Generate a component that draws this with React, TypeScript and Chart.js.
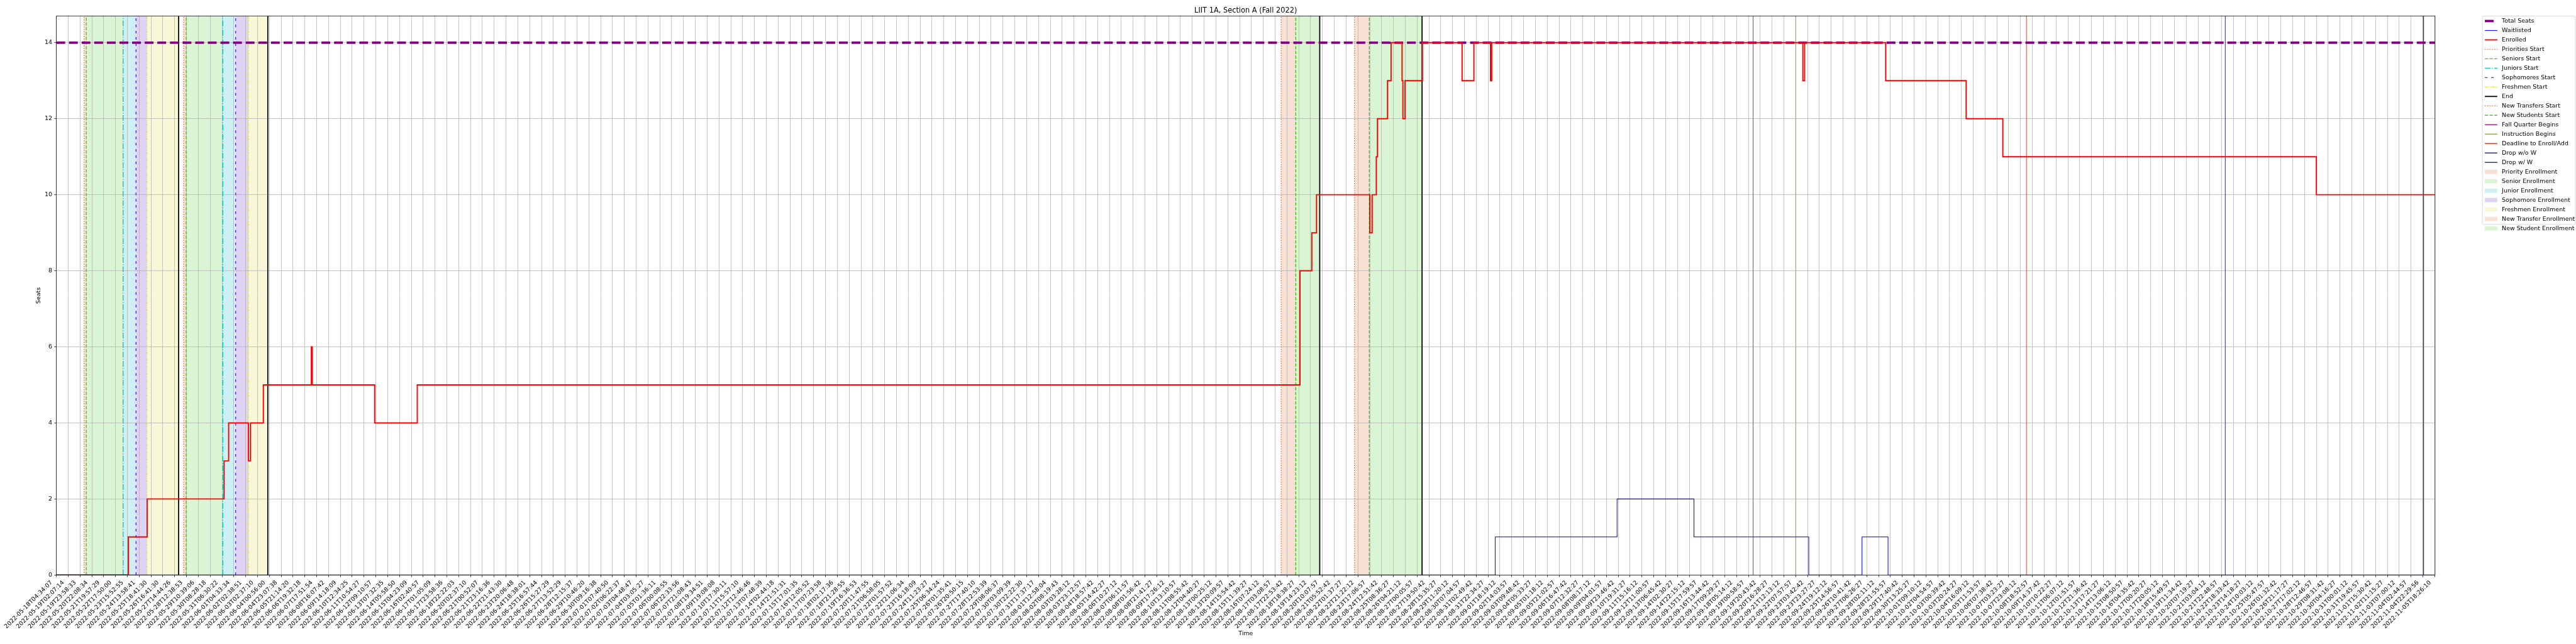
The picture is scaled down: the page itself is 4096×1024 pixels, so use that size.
import React, { useEffect, useRef } from "react";
import { Chart, registerables } from "chart.js";

Chart.register(...registerables);

const W = 4096;
const H = 1024;
const S = W / 6000;
const px = (v: number) => v * S;
const FONT = "DejaVu Sans";

const chartTitle = "LIIT 1A, Section A (Fall 2022)";
const xAxisTitle = "Time";
const yAxisTitle = "Seats";

const tickLabels: string[] = [
  "2022-05-18T04:34:07", "2022-05-19T02:07:14", "2022-05-19T23:58:33", "2022-05-20T22:08:34",
  "2022-05-21T19:57:29", "2022-05-22T17:50:00", "2022-05-23T15:52:55", "2022-05-24T13:58:41",
  "2022-05-25T18:41:30", "2022-05-26T16:41:30", "2022-05-27T14:44:26", "2022-05-28T12:38:53",
  "2022-05-29T10:39:06", "2022-05-30T08:28:18", "2022-05-31T06:30:22", "2022-06-01T04:33:34",
  "2022-06-02T02:38:51", "2022-06-03T02:37:10", "2022-06-04T00:56:00", "2022-06-04T23:07:38",
  "2022-06-05T21:14:20", "2022-06-06T19:32:18", "2022-06-07T17:51:54", "2022-06-08T16:07:42",
  "2022-06-09T14:18:09", "2022-06-10T12:34:25", "2022-06-11T10:54:27", "2022-06-12T09:10:57",
  "2022-06-13T07:32:35", "2022-06-14T05:58:50", "2022-06-15T04:23:09", "2022-06-16T02:40:57",
  "2022-06-17T01:05:09", "2022-06-17T23:58:36", "2022-06-18T22:22:03", "2022-06-20T02:37:10",
  "2022-06-21T00:52:07", "2022-06-21T23:16:36", "2022-06-22T21:43:30", "2022-06-23T20:06:48",
  "2022-06-24T18:38:01", "2022-06-25T16:57:44", "2022-06-26T15:27:29", "2022-06-27T13:52:29",
  "2022-06-28T12:15:37", "2022-06-29T10:46:20", "2022-06-30T09:16:38", "2022-07-01T07:40:50",
  "2022-07-02T06:22:37", "2022-07-03T04:48:47", "2022-07-04T03:05:27", "2022-07-05T01:36:11",
  "2022-07-06T00:08:55", "2022-07-06T22:33:56", "2022-07-07T21:08:43", "2022-07-08T19:34:51",
  "2022-07-09T19:08:08", "2022-07-10T17:30:11", "2022-07-11T15:57:10", "2022-07-12T12:46:46",
  "2022-07-13T07:48:39", "2022-07-14T02:44:18", "2022-07-14T21:51:31", "2022-07-15T17:01:35",
  "2022-07-16T12:05:52", "2022-07-17T07:23:58", "2022-07-18T02:17:36", "2022-07-18T21:28:55",
  "2022-07-19T16:36:53", "2022-07-20T11:47:55", "2022-07-21T06:58:05", "2022-07-22T01:57:52",
  "2022-07-22T21:06:34", "2022-07-23T16:18:09", "2022-07-24T11:23:27", "2022-07-25T06:34:24",
  "2022-07-26T01:35:41", "2022-07-26T20:50:15", "2022-07-27T17:40:10", "2022-07-28T12:53:39",
  "2022-07-29T08:06:37", "2022-07-30T03:09:39", "2022-07-30T22:22:30", "2022-07-31T17:37:17",
  "2022-08-01T12:58:04", "2022-08-02T08:19:43", "2022-08-03T03:28:12", "2022-08-03T23:12:57",
  "2022-08-04T18:57:42", "2022-08-05T14:42:27", "2022-08-06T10:27:12", "2022-08-07T06:11:57",
  "2022-08-08T01:56:42", "2022-08-08T21:41:27", "2022-08-09T17:26:12", "2022-08-10T13:10:57",
  "2022-08-11T08:55:42", "2022-08-12T04:40:27", "2022-08-13T00:25:12", "2022-08-13T20:09:57",
  "2022-08-14T15:54:42", "2022-08-15T11:39:27", "2022-08-16T07:24:12", "2022-08-17T03:08:57",
  "2022-08-17T22:53:42", "2022-08-18T18:38:27", "2022-08-19T14:23:12", "2022-08-20T10:07:57",
  "2022-08-21T05:52:42", "2022-08-22T01:37:27", "2022-08-22T21:22:12", "2022-08-23T17:06:57",
  "2022-08-24T12:51:42", "2022-08-25T08:36:27", "2022-08-26T04:21:12", "2022-08-27T00:05:57",
  "2022-08-27T19:50:42", "2022-08-28T15:35:27", "2022-08-29T11:20:12", "2022-08-30T07:04:57",
  "2022-08-31T02:49:42", "2022-08-31T22:34:27", "2022-09-01T18:19:12", "2022-09-02T14:03:57",
  "2022-09-03T09:48:42", "2022-09-04T05:33:27", "2022-09-05T01:18:12", "2022-09-05T21:02:57",
  "2022-09-06T16:47:42", "2022-09-07T12:32:27", "2022-09-08T08:17:12", "2022-09-09T04:01:57",
  "2022-09-09T23:46:42", "2022-09-10T19:31:27", "2022-09-11T15:16:12", "2022-09-12T11:00:57",
  "2022-09-13T06:45:42", "2022-09-14T02:30:27", "2022-09-14T22:15:12", "2022-09-15T17:59:57",
  "2022-09-16T13:44:42", "2022-09-17T09:29:27", "2022-09-18T05:14:12", "2022-09-19T00:58:57",
  "2022-09-19T20:43:42", "2022-09-20T16:28:27", "2022-09-21T12:13:12", "2022-09-22T07:57:57",
  "2022-09-23T03:42:42", "2022-09-23T23:27:27", "2022-09-24T19:12:12", "2022-09-25T14:56:57",
  "2022-09-26T10:41:42", "2022-09-27T06:26:27", "2022-09-28T02:11:12", "2022-09-28T21:55:57",
  "2022-09-29T17:40:42", "2022-09-30T13:25:27", "2022-10-01T09:10:12", "2022-10-02T04:54:57",
  "2022-10-03T00:39:42", "2022-10-03T20:24:27", "2022-10-04T16:09:12", "2022-10-05T11:53:57",
  "2022-10-06T07:38:42", "2022-10-07T03:23:27", "2022-10-07T23:08:12", "2022-10-08T18:52:57",
  "2022-10-09T14:37:42", "2022-10-10T10:22:27", "2022-10-11T06:07:12", "2022-10-12T01:51:57",
  "2022-10-12T21:36:42", "2022-10-13T17:21:27", "2022-10-14T13:06:12", "2022-10-15T08:50:57",
  "2022-10-16T04:35:42", "2022-10-17T00:20:27", "2022-10-17T20:05:12", "2022-10-18T15:49:57",
  "2022-10-19T11:34:42", "2022-10-20T07:19:27", "2022-10-21T03:04:12", "2022-10-21T22:48:57",
  "2022-10-22T18:33:42", "2022-10-23T14:18:27", "2022-10-24T10:03:12", "2022-10-25T05:47:57",
  "2022-10-26T01:32:42", "2022-10-26T21:17:27", "2022-10-27T17:02:12", "2022-10-28T12:46:57",
  "2022-10-29T08:31:42", "2022-10-30T04:16:27", "2022-10-31T00:01:12", "2022-10-31T19:45:57",
  "2022-11-01T15:30:42", "2022-11-02T11:15:27", "2022-11-03T07:00:12", "2022-11-04T02:44:57",
  "2022-11-04T22:29:56", "2022-11-05T18:26:10",
];

// x positions are in tick-index units (tick k at x = k); the final tick sits at xMax
const regularTickCount = 201;
const xMax = 201.03;
const yMax = 14.7;
const yTicks = [0, 2, 4, 6, 8, 10, 12, 14];

const totalSeats = 14;

const enrolledX = [0, 6.08, 7.67, 14.17, 14.56, 16.23, 16.4, 17.49, 21.55, 21.62, 26.9, 30.5,
  105.1, 106.1, 106.5, 111.0, 111.2, 111.55, 111.65, 112.5, 112.8, 113.73, 113.8, 113.98, 115.45,
  118.8, 119.8, 121.2, 121.3, 147.6, 147.75, 154.6, 161.4, 164.5, 191.0, 201.03];
const enrolledY = [0, 1, 2, 3, 4, 3, 4, 5, 6, 5, 4, 5,
  8, 9, 10, 9, 10, 11, 12, 13, 14, 13, 12, 13, 14,
  13, 14, 13, 14, 13, 14, 13, 12, 11, 10, 10];

const waitlistX = [0, 121.6, 131.9, 138.4, 148.1, 152.6, 154.8, 201.03];
const waitlistY = [0, 1, 2, 1, 0, 1, 0, 0];

const prioritiesStart = [2.34, 10.75];
const seniorsStart = [2.53, 10.97];
const juniorsStart = [5.64, 14.06];
const sophomoresStart = [6.73, 15.15];
const freshmenStart = [7.65, 16.23];
const enrollmentEnd = [10.33, 17.87, 106.77, 115.42];
const newTransfersStart = [103.51, 109.71];
const newStudentsStart = [104.74, 110.96];
const fallQuarterBegins = [143.4];
const instructionBegins = [147.0];
const deadlineEnrollAdd = [166.5];
const dropWithoutW = [183.3];
const dropWithW = [200.05];

// ---------- styles ----------
const C = {
  seats: "#800080", wait: "#0000ff", enr: "#ff0000",
  prio: "#f26b3a", senior: "#44cc22", junior: "#00c8d7", soph: "#6622dd", fresh: "#e3e32e",
  end: "#000000", fall: "#c0209a", instr: "#8db51f", deadline: "#d9482b", dropNo: "#302c8a", dropW: "#333d5c",
  fPrio: "#f8e0d5", fSenior: "#daf5d3", fJunior: "#cff0f3", fSoph: "#dfd3f4", fFresh: "#f8f8d9",
};
const LW = 2.08;
const dotted = [LW, 3.44];
const dashed = [7.7, 3.33];
const dashDot = [13.3, 3.33, LW, 3.33];
const soph = [6.2, 8.3];
const dashDotDot = [6.2, LW, LW, LW, LW, LW];

type VLine = { values: number[]; color: string; width: number; dash: number[] };
const vlines: VLine[] = [
  { values: prioritiesStart, color: C.prio, width: LW, dash: dotted },
  { values: seniorsStart, color: C.senior, width: LW, dash: dashed },
  { values: juniorsStart, color: C.junior, width: LW, dash: dashDot },
  { values: sophomoresStart, color: C.soph, width: LW, dash: soph },
  { values: freshmenStart, color: C.fresh, width: LW, dash: dashDotDot },
  { values: enrollmentEnd, color: C.end, width: 2.6, dash: [] },
  { values: newTransfersStart, color: C.prio, width: LW, dash: dotted },
  { values: newStudentsStart, color: C.senior, width: LW, dash: dashed },
  { values: fallQuarterBegins, color: C.fall, width: 1.5, dash: [] },
  { values: instructionBegins, color: C.instr, width: 1.5, dash: [] },
  { values: deadlineEnrollAdd, color: C.deadline, width: 1.5, dash: [] },
  { values: dropWithoutW, color: C.dropNo, width: 1.5, dash: [] },
  { values: dropWithW, color: C.dropW, width: 2.2, dash: [] },
];

type Span = { from: number[]; to: number[]; color: string };
const spans: Span[] = [
  { from: prioritiesStart, to: seniorsStart, color: C.fPrio },
  { from: seniorsStart, to: juniorsStart, color: C.fSenior },
  { from: juniorsStart, to: sophomoresStart, color: C.fJunior },
  { from: sophomoresStart, to: freshmenStart, color: C.fSoph },
  { from: freshmenStart, to: enrollmentEnd.slice(0, 2), color: C.fFresh },
  { from: newTransfersStart, to: newStudentsStart, color: C.fPrio },
  { from: newStudentsStart, to: enrollmentEnd.slice(2, 4), color: C.fSenior },
];

type LegendItem = { label: string; kind: "line" | "patch"; color: string; width?: number; dash?: number[] };
const legendItems: LegendItem[] = [
  { label: "Total Seats", kind: "line", color: C.seats, width: 5.56, dash: [20.5, 8.9] },
  { label: "Waitlisted", kind: "line", color: C.wait, width: 1.5, dash: [] },
  { label: "Enrolled", kind: "line", color: C.enr, width: 2.8, dash: [] },
  { label: "Priorities Start", kind: "line", color: C.prio, width: LW, dash: dotted },
  { label: "Seniors Start", kind: "line", color: C.senior, width: LW, dash: dashed },
  { label: "Juniors Start", kind: "line", color: C.junior, width: LW, dash: dashDot },
  { label: "Sophomores Start", kind: "line", color: C.soph, width: LW, dash: soph },
  { label: "Freshmen Start", kind: "line", color: C.fresh, width: LW, dash: dashDotDot },
  { label: "End", kind: "line", color: C.end, width: 2.6, dash: [] },
  { label: "New Transfers Start", kind: "line", color: C.prio, width: LW, dash: dotted },
  { label: "New Students Start", kind: "line", color: C.senior, width: LW, dash: dashed },
  { label: "Fall Quarter Begins", kind: "line", color: C.fall, width: 2.2, dash: [] },
  { label: "Instruction Begins", kind: "line", color: C.instr, width: 2.2, dash: [] },
  { label: "Deadline to Enroll/Add", kind: "line", color: C.deadline, width: 2.2, dash: [] },
  { label: "Drop w/o W", kind: "line", color: C.dropNo, width: 2.2, dash: [] },
  { label: "Drop w/ W", kind: "line", color: C.dropW, width: 2.2, dash: [] },
  { label: "Priority Enrollment", kind: "patch", color: C.fPrio },
  { label: "Senior Enrollment", kind: "patch", color: C.fSenior },
  { label: "Junior Enrollment", kind: "patch", color: C.fJunior },
  { label: "Sophomore Enrollment", kind: "patch", color: C.fSoph },
  { label: "Freshmen Enrollment", kind: "patch", color: C.fFresh },
  { label: "New Transfer Enrollment", kind: "patch", color: C.fPrio },
  { label: "New Student Enrollment", kind: "patch", color: C.fSenior },
];

const tickValues: number[] = [];
for (let k = 0; k < regularTickCount; k++) tickValues.push(k);
tickValues.push(xMax);

const spanPlugin = {
  id: "spans",
  beforeDraw(chart: any) {
    const { ctx, chartArea, scales } = chart;
    const { top, bottom, left, right } = chartArea;
    ctx.save();
    ctx.fillStyle = "#ffffff";
    ctx.fillRect(0, 0, chart.width, chart.height);
    ctx.beginPath();
    ctx.rect(left, top, right - left, bottom - top);
    ctx.clip();
    for (const sp of spans) {
      ctx.fillStyle = sp.color;
      sp.from.forEach((f, i) => {
        const a = scales.x.getPixelForValue(f);
        const b = scales.x.getPixelForValue(sp.to[i]);
        ctx.fillRect(a, top, b - a, bottom - top);
      });
    }
    ctx.restore();
  },
};

const vlinePlugin = {
  id: "vlines",
  beforeDatasetsDraw(chart: any) {
    const { ctx, chartArea, scales } = chart;
    const { top, bottom, left, right } = chartArea;
    ctx.save();
    ctx.beginPath();
    ctx.rect(left, top, right - left, bottom - top);
    ctx.clip();
    for (const ln of vlines) {
      ctx.strokeStyle = ln.color;
      ctx.lineWidth = px(ln.width);
      ctx.setLineDash(ln.dash.map(px));
      for (const v of ln.values) {
        const X = scales.x.getPixelForValue(v);
        ctx.beginPath();
        ctx.moveTo(X, bottom);
        ctx.lineTo(X, top);
        ctx.stroke();
      }
    }
    ctx.restore();
  },
};

const decorPlugin = {
  id: "decor",
  afterDraw(chart: any) {
    const { ctx, chartArea } = chart;
    const { top, bottom, left, right } = chartArea;
    ctx.save();
    // frame
    ctx.strokeStyle = "#000";
    ctx.lineWidth = px(1.11);
    ctx.setLineDash([]);
    ctx.strokeRect(left, top, right - left, bottom - top);
    // title
    ctx.fillStyle = "#000";
    ctx.font = `${px(16.67)}px "${FONT}"`;
    ctx.textAlign = "center";
    ctx.textBaseline = "alphabetic";
    ctx.fillText(chartTitle, (left + right) / 2, px(29));
    // legend
    const bx = px(5782), by = px(37.3), bw = W - 1 - bx, bh = px(522.7 - 37.3);
    const r = px(3);
    ctx.beginPath();
    ctx.moveTo(bx + r, by);
    ctx.lineTo(bx + bw - r, by);
    ctx.quadraticCurveTo(bx + bw, by, bx + bw, by + r);
    ctx.lineTo(bx + bw, by + bh - r);
    ctx.quadraticCurveTo(bx + bw, by + bh, bx + bw - r, by + bh);
    ctx.lineTo(bx + r, by + bh);
    ctx.quadraticCurveTo(bx, by + bh, bx, by + bh - r);
    ctx.lineTo(bx, by + r);
    ctx.quadraticCurveTo(bx, by, bx + r, by);
    ctx.closePath();
    ctx.fillStyle = "rgba(255,255,255,0.8)";
    ctx.fill();
    ctx.strokeStyle = "#cccccc";
    ctx.lineWidth = px(1.1);
    ctx.stroke();
    const hx0 = px(5787.7), hx1 = px(5816.7), tx = px(5827.3);
    ctx.font = `${px(13.9)}px "${FONT}"`;
    ctx.textAlign = "left";
    ctx.textBaseline = "middle";
    legendItems.forEach((it, i) => {
      const y = px(49 + i * 21.95);
      if (it.kind === "line") {
        ctx.strokeStyle = it.color;
        ctx.lineWidth = px(it.width || 1);
        ctx.setLineDash((it.dash || []).map(px));
        ctx.beginPath();
        ctx.moveTo(hx0, y);
        ctx.lineTo(hx1, y);
        ctx.stroke();
        ctx.setLineDash([]);
      } else {
        ctx.fillStyle = it.color;
        ctx.fillRect(hx0, y - px(5), hx1 - hx0, px(10));
      }
      ctx.fillStyle = "#000";
      ctx.fillText(it.label, tx, y + px(0.5));
    });
    ctx.restore();
  },
};

export default function App() {
  const ref = useRef<HTMLCanvasElement | null>(null);
  useEffect(() => {
    if (!ref.current) return;
    const fontTick = { family: FONT, size: px(13.9) };
    const chart = new Chart(ref.current, {
      type: "line",
      data: {
        datasets: [
          {
            label: "Enrolled",
            data: enrolledX.map((x, i) => ({ x, y: enrolledY[i] })),
            borderColor: C.enr,
            borderWidth: px(2.8),
            stepped: "before",
            pointRadius: 0,
            fill: false,
          },
          {
            label: "Waitlisted",
            data: waitlistX.map((x, i) => ({ x, y: waitlistY[i] })),
            borderColor: C.wait,
            borderWidth: px(1.5),
            stepped: "before",
            pointRadius: 0,
            fill: false,
          },
          {
            label: "Total Seats",
            data: [{ x: 0, y: totalSeats }, { x: xMax, y: totalSeats }],
            borderColor: C.seats,
            borderWidth: px(5.56),
            borderDash: [px(20.5), px(8.9)],
            pointRadius: 0,
            fill: false,
          },
        ],
      },
      options: {
        animation: false,
        responsive: false,
        maintainAspectRatio: false,
        devicePixelRatio: 1,
        events: [],
        layout: { padding: { left: 0, top: px(37.3), right: W - px(5671.7), bottom: 0 } },
        plugins: { legend: { display: false }, title: { display: false }, tooltip: { enabled: false } },
        scales: {
          x: {
            type: "linear",
            min: 0,
            max: xMax,
            afterBuildTicks: (sc: any) => {
              sc.ticks = tickValues.map((v) => ({ value: v }));
            },
            afterFit: (sc: any) => {
              sc.height = H - px(1339.3);
            },
            ticks: {
              autoSkip: false,
              maxRotation: 45,
              minRotation: 45,
              callback: (_v: any, i: number) => tickLabels[i] ?? "",
              font: fontTick,
              color: "#000",
              padding: px(4.86),
              labelOffset: -0.81 * px(13.9),
            },
            grid: {
              color: "#b0b0b0",
              lineWidth: px(1.11),
              drawTicks: true,
              tickLength: px(4.86),
              tickColor: "#000",
              tickWidth: px(1.11),
            },
            border: { display: false },
            title: {
              display: true,
              text: xAxisTitle,
              font: fontTick,
              color: "#000",
              padding: { top: 0, bottom: 10.7 },
            },
          },
          y: {
            type: "linear",
            min: 0,
            max: yMax,
            afterBuildTicks: (sc: any) => {
              sc.ticks = yTicks.map((v) => ({ value: v }));
            },
            afterFit: (sc: any) => {
              sc.width = px(131.3);
            },
            ticks: {
              font: fontTick,
              color: "#000",
              padding: px(4.86),
              callback: (v: any) => String(v),
            },
            grid: {
              color: "#b0b0b0",
              lineWidth: px(1.11),
              drawTicks: true,
              tickLength: px(4.86),
              tickColor: "#000",
              tickWidth: px(1.11),
            },
            border: { display: false },
            title: {
              display: true,
              text: yAxisTitle,
              font: fontTick,
              color: "#000",
              padding: { top: 56, bottom: 0 },
            },
          },
        },
      },
      plugins: [spanPlugin, vlinePlugin, decorPlugin],
    } as any);
    return () => chart.destroy();
  }, []);
  return (
    <div style={{ position: "fixed", left: 0, top: 0, width: W, height: H, background: "#fff" }}>
      <canvas ref={ref} width={W} height={H} style={{ width: W, height: H, display: "block" }} />
    </div>
  );
}
